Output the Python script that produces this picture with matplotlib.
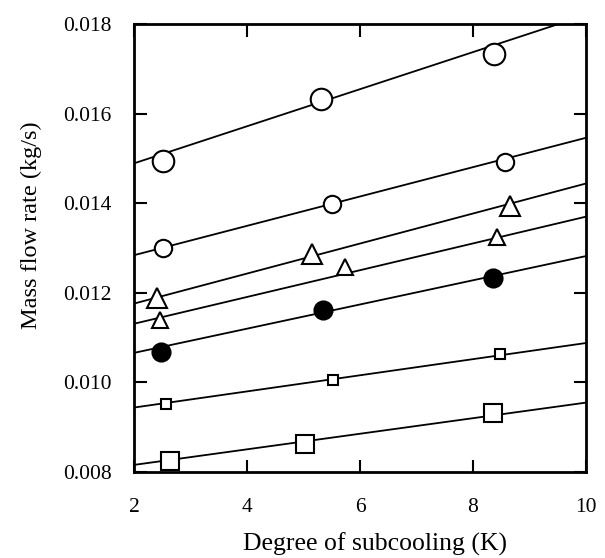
import matplotlib
matplotlib.use("Agg")
import matplotlib.pyplot as plt
import numpy as np

plt.rcParams['font.family'] = ['Liberation Serif', 'DejaVu Serif']

# Series data: x (degree of subcooling, K), y (mass flow rate, kg/s)
x_circle_big = [2.51, 5.31, 8.37]
y_circle_big = [0.01495, 0.01633, 0.01733]
fit_circle_big = [0.01489, 0.01820]   # fitted line at x=2 and x=10

x_circle_med = [2.51, 5.50, 8.57]
y_circle_med = [0.01301, 0.01399, 0.01493]
fit_circle_med = [0.01284, 0.01546]

x_tri_big = [2.40, 5.15, 8.65]
y_tri_big = [0.01188, 0.01286, 0.01394]
fit_tri_big = [0.01176, 0.01444]

x_tri_small = [2.46, 5.73, 8.42]
y_tri_small = [0.01139, 0.01258, 0.01324]
fit_tri_small = [0.01131, 0.01370]

x_dot = [2.48, 5.34, 8.35]
y_dot = [0.01069, 0.01162, 0.01234]
fit_dot = [0.01066, 0.01282]

x_sq_small = [2.57, 5.52, 8.48]
y_sq_small = [0.00952, 0.01005, 0.01063]
fit_sq_small = [0.00944, 0.01088]

x_sq_big = [2.64, 5.03, 8.36]
y_sq_big = [0.00824, 0.00862, 0.00932]
fit_sq_big = [0.00816, 0.00955]

fit_x = [2, 10]
xticks = [2, 4, 6, 8, 10]
yticks = [0.008, 0.010, 0.012, 0.014, 0.016, 0.018]
ytick_labels = ['0.008', '0.010', '0.012', '0.014', '0.016', '0.018']

fig = plt.figure(figsize=(6.05, 5.58), dpi=100)
ax = fig.add_axes([0.2215, 0.154, 0.747, 0.803])

series = [
    (x_circle_big, y_circle_big, fit_circle_big, 'o', 15.5, 'white'),
    (x_circle_med, y_circle_med, fit_circle_med, 'o', 12.5, 'white'),
    (x_tri_big, y_tri_big, fit_tri_big, '^', 15.0, 'white'),
    (x_tri_small, y_tri_small, fit_tri_small, '^', 11.0, 'white'),
    (x_dot, y_dot, fit_dot, 'o', 13.0, 'black'),
    (x_sq_small, y_sq_small, fit_sq_small, 's', 7.5, 'white'),
    (x_sq_big, y_sq_big, fit_sq_big, 's', 12.5, 'white'),
]

for xs, ys, fit, mk, ms, fc in series:
    ax.plot(fit_x, fit, color='black', lw=1.3, zorder=2, solid_capstyle='butt')
    ax.plot(xs, ys, linestyle='none', marker=mk, markersize=ms,
            markerfacecolor=fc, markeredgecolor='black', markeredgewidth=1.5,
            zorder=3)

ax.set_xlim(2, 10)
ax.set_ylim(0.008, 0.018)
ax.set_xticks(xticks)
ax.set_xticklabels([str(v) for v in xticks])
ax.set_yticks(yticks)
ax.set_yticklabels(ytick_labels)

ax.tick_params(direction='in', length=9, width=1.5, top=True, right=True,
               labelsize=15.5)
ax.tick_params(axis='x', pad=19)
ax.tick_params(axis='y', pad=16)
for s in ax.spines.values():
    s.set_linewidth(2.0)

ax.set_xlabel('Degree of subcooling (K)', fontsize=18.5)
ax.set_ylabel('Mass flow rate (kg/s)', fontsize=17.5)
ax.xaxis.set_label_coords(0.533, -0.134)
ax.yaxis.set_label_coords(-0.204, 0.551)

fig.savefig('out.png', dpi=100)
